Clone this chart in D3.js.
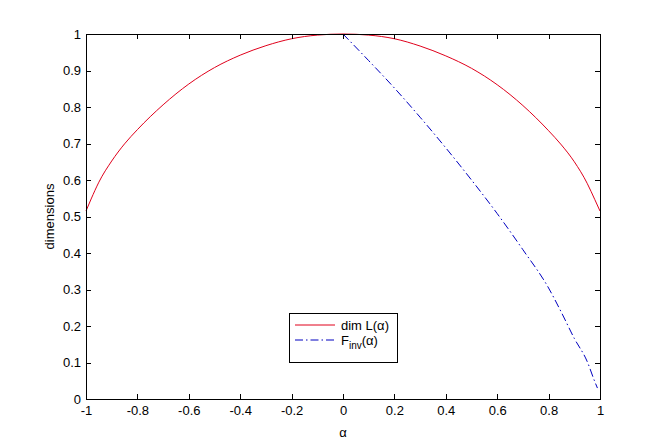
<!DOCTYPE html>
<meta charset="utf-8">
<html>
<style>
body { margin: 0; background: #fff; }
.axis text { font: 13px "Liberation Sans", Arial, sans-serif; fill: #000; }
.axis path, .axis line { stroke: #000; shape-rendering: crispEdges; }
.lbl { font: 13px "Liberation Sans", Arial, sans-serif; fill: #000; }
</style>
<svg width="663" height="448"></svg>
<script src="https://d3js.org/d3.v7.min.js"></script>
<script>
// dim L(alpha)
var alphaL = [-1, -0.98, -0.95, -0.9, -0.85, -0.8, -0.7, -0.6, -0.5, -0.4, -0.3, -0.2, -0.1, 0,
              0.1, 0.2, 0.3, 0.4, 0.5, 0.6, 0.7, 0.8, 0.85, 0.9, 0.95, 0.98, 1];
var dimL   = [0.515, 0.548, 0.594, 0.652, 0.699, 0.738, 0.806, 0.863, 0.908, 0.942, 0.968, 0.987, 0.997, 1,
              0.997, 0.987, 0.967, 0.940, 0.906, 0.861, 0.804, 0.735, 0.696, 0.650, 0.591, 0.546, 0.515];

// F_inv(alpha)
var alphaF = [0, 0.1, 0.2, 0.3, 0.4, 0.5, 0.6, 0.7, 0.8, 0.85, 0.9, 0.95, 0.98, 0.99];
var fInv   = [1.0, 0.927, 0.852, 0.772, 0.688, 0.600, 0.508, 0.409, 0.304, 0.237, 0.166, 0.103, 0.047, 0.03];

var xTicks = [-1, -0.8, -0.6, -0.4, -0.2, 0, 0.2, 0.4, 0.6, 0.8, 1];
var yTicks = [0, 0.1, 0.2, 0.3, 0.4, 0.5, 0.6, 0.7, 0.8, 0.9, 1];

var svg = d3.select("svg");
var mLeft = 86, mRight = 600, mTop = 34, mBottom = 399;

var x = d3.scaleLinear().domain([-1, 1]).range([mLeft, mRight]);
var y = d3.scaleLinear().domain([0, 1]).range([mBottom, mTop]);
var fmt = d => String(+d.toFixed(1));

var line = d3.line().x(d => x(d[0])).y(d => y(d[1])).curve(d3.curveMonotoneX);

svg.append("path")
    .datum(d3.zip(alphaL, dimL))
    .attr("d", line)
    .attr("fill", "none").attr("stroke", "#e0001b").attr("stroke-width", 1);

svg.append("path")
    .datum(d3.zip(alphaF, fInv))
    .attr("d", line)
    .attr("fill", "none").attr("stroke", "#0000c0").attr("stroke-width", 1)
    .attr("stroke-dasharray", "8,3,1.5,3");

svg.append("g").attr("class", "axis")
    .attr("transform", "translate(0," + mBottom + ")")
    .call(d3.axisBottom(x).tickValues(xTicks).tickFormat(fmt).tickSize(-5).tickSizeOuter(0).tickPadding(7));
svg.append("g").attr("class", "axis")
    .attr("transform", "translate(0," + mTop + ")")
    .call(d3.axisTop(x).tickValues(xTicks).tickFormat("").tickSize(-5).tickSizeOuter(0));
svg.append("g").attr("class", "axis")
    .attr("transform", "translate(" + mLeft + ",0)")
    .call(d3.axisLeft(y).tickValues(yTicks).tickFormat(fmt).tickSize(-5).tickSizeOuter(0).tickPadding(5));
svg.append("g").attr("class", "axis")
    .attr("transform", "translate(" + mRight + ",0)")
    .call(d3.axisRight(y).tickValues(yTicks).tickFormat("").tickSize(-5).tickSizeOuter(0));

// axis labels
svg.append("text").attr("class", "lbl")
    .attr("x", (mLeft + mRight) / 2).attr("y", 437)
    .attr("text-anchor", "middle").text("\u03b1");
svg.append("text").attr("class", "lbl")
    .attr("transform", "translate(54," + (mTop + mBottom) / 2 + ") rotate(-90)")
    .attr("text-anchor", "middle").text("dimensions");

// legend
var lg = svg.append("g").attr("transform", "translate(289,313)");
lg.append("rect").attr("x", 0.5).attr("y", 0.5).attr("width", 108).attr("height", 49)
    .attr("fill", "#fff").attr("stroke", "#000");
var items = [
  {label: "dim L(\u03b1)", color: "#e0001b", dash: null, yy: 12},
  {label: "F", sub: "inv", rest: "(\u03b1)", color: "#0000c0", dash: "8,3,1.5,3", yy: 27}
];
items.forEach(function(it) {
  lg.append("line").attr("x1", 6).attr("x2", 46).attr("y1", it.yy).attr("y2", it.yy)
    .attr("stroke", it.color).attr("stroke-dasharray", it.dash);
  var t = lg.append("text").attr("class", "lbl").attr("x", 52).attr("y", it.yy + 4.5);
  if (it.sub) {
    t.append("tspan").text(it.label);
    t.append("tspan").attr("dy", 4).style("font-size", "10px").text(it.sub);
    t.append("tspan").attr("dy", -4).text(it.rest);
  } else {
    t.text(it.label);
  }
});
</script>
</html>
